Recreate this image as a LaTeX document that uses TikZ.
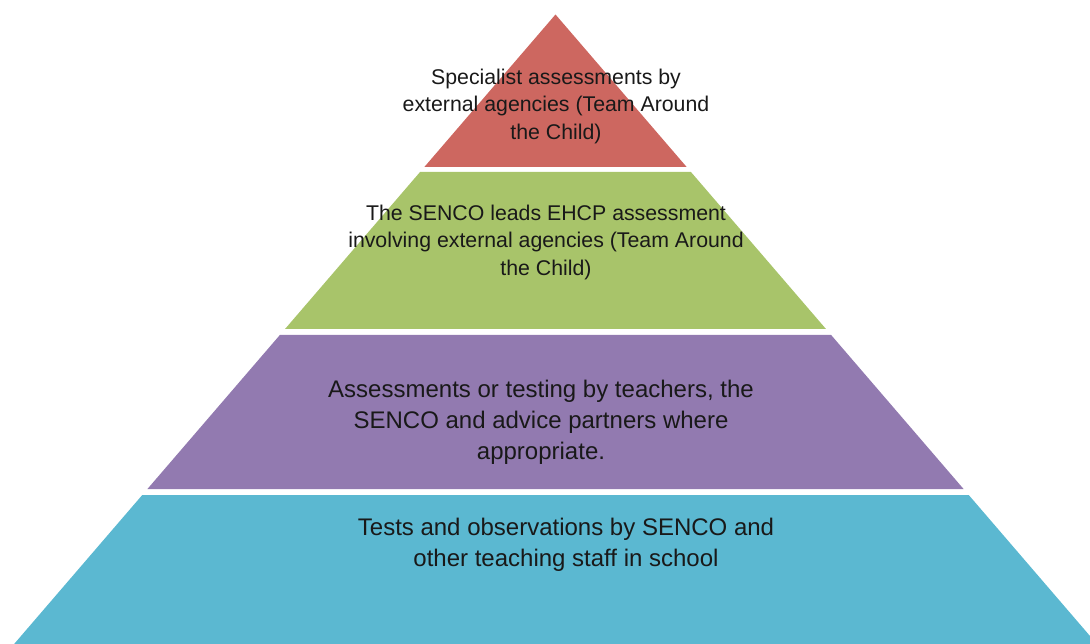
\documentclass[tikz,border=0pt]{standalone}
\usepackage{fontspec}
\setmainfont{Liberation Sans}
\definecolor{topred}{RGB}{205,103,96}
\definecolor{midgreen}{RGB}{168,196,106}
\definecolor{lowpurple}{RGB}{146,122,176}
\definecolor{basecyan}{RGB}{91,184,209}
\begin{document}
\begin{tikzpicture}[x=1pt, y=-1pt,
    small text/.style={align=center, text=black!90, font=\fontsize{21.3}{27.5}\selectfont},
    large text/.style={align=center, text=black!90, font=\fontsize{24}{31}\selectfont}]
            \useasboundingbox (0,0) rectangle (1090,644);
            \clip (0,0) rectangle (1090,644);
            \coordinate (apex) at (555.5,14.5);
            
            \fill [topred] (apex) -- ({555.5+0.86*(167-14.5)},167) -- ({555.5-0.86*(167-14.5)},167) -- cycle;
            \fill [midgreen] ({555.5-0.86*(172-14.5)},172) -- ({555.5+0.86*(172-14.5)},172) -- ({555.5+0.86*(329-14.5)},329) -- ({555.5-0.86*(329-14.5)},329) -- cycle;
            \fill [lowpurple] ({555.5-0.86*(335-14.5)},335) -- ({555.5+0.86*(335-14.5)},335) -- ({555.5+0.86*(489-14.5)},489) -- ({555.5-0.86*(489-14.5)},489) -- cycle;
            \fill [basecyan] ({555.5-0.86*(495-14.5)},495) -- ({555.5+0.86*(495-14.5)},495) -- ({555.5+0.86*(660-14.5)},660) -- ({555.5-0.86*(660-14.5)},660) -- cycle;
            
            \node [small text] (T1) at (556,106) {Specialist assessments by\\external agencies (Team Around\\the Child)};
            \node [small text] (T2) at (546,242) {The SENCO leads EHCP assessment\\involving external agencies (Team Around\\the Child)};
            \node [large text, text depth=0pt] (T3) at (541,420) {Assessments or testing by teachers, the\\SENCO and advice partners where\\appropriate.};
            \node [large text] (T4) at (566,545) {Tests and observations by SENCO and\\other teaching staff in school};
        \end{tikzpicture}
\end{document}
